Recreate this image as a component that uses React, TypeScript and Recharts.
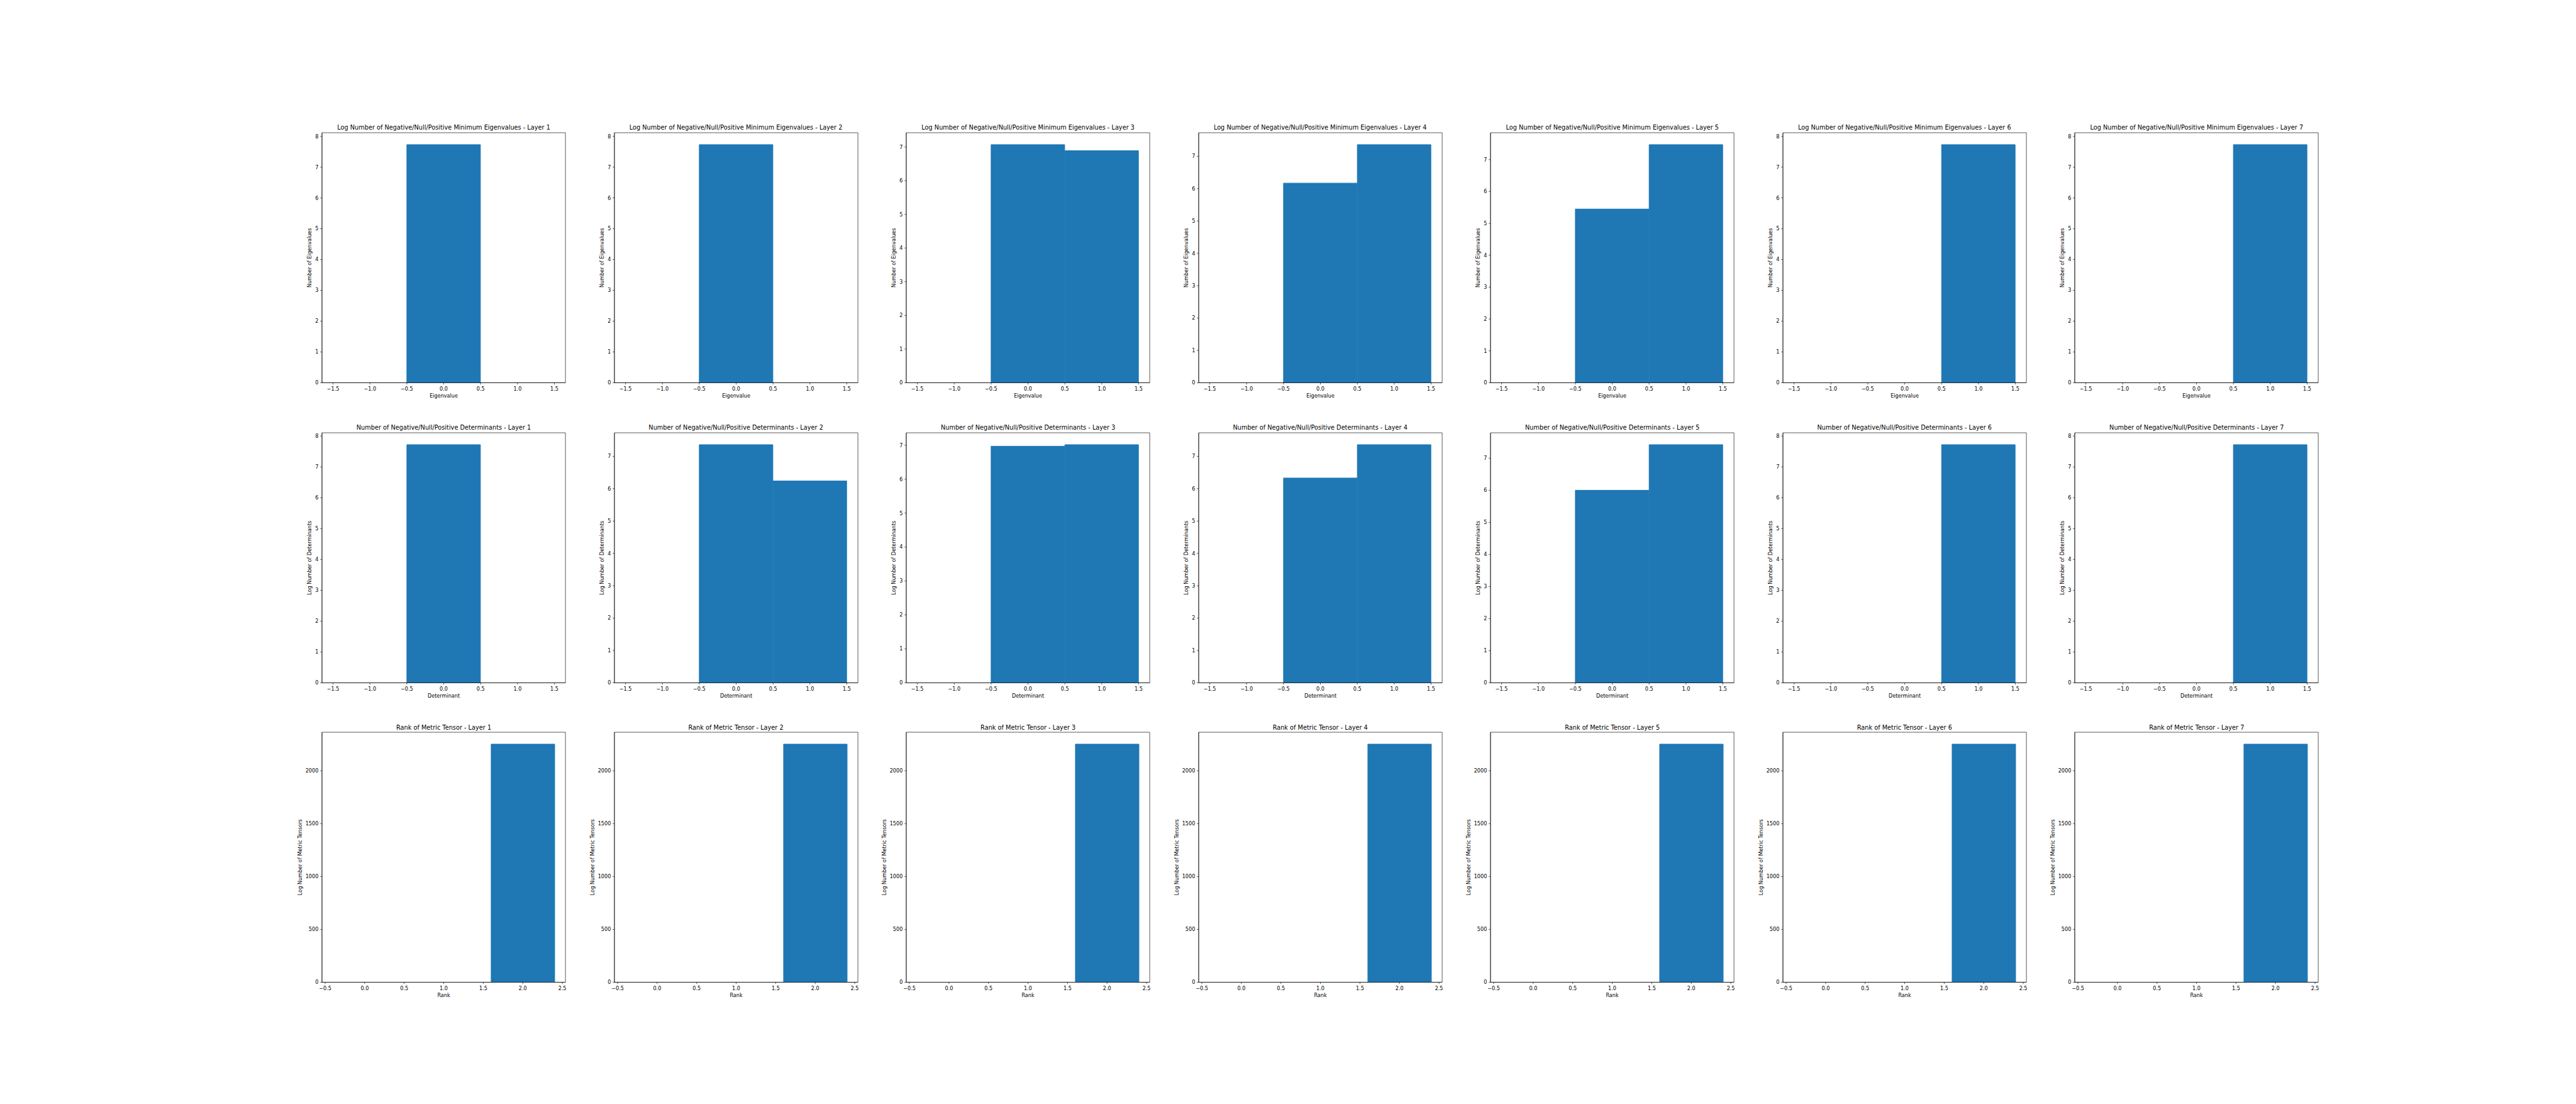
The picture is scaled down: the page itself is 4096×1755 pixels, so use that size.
import React from 'react';
import { BarChart, Bar, XAxis, YAxis, ReferenceArea } from 'recharts';

// ---------------- data ----------------
const layers = [1, 2, 3, 4, 5, 6, 7];
const signCategories = [-1, 0, 1];
const rankCategories = [0, 1, 2];

// log counts of negative / null / positive minimum eigenvalues, per layer
const minEigenLogCounts = [
  [0, 7.73, 0],
  [0, 7.73, 0],
  [0, 7.07, 6.89],
  [0, 6.17, 7.36],
  [0, 5.45, 7.47],
  [0, 0, 7.73],
  [0, 0, 7.73],
];

// log counts of negative / null / positive determinants, per layer
const determinantLogCounts = [
  [0, 7.72, 0],
  [0, 7.36, 6.24],
  [0, 6.97, 7.015],
  [0, 6.33, 7.36],
  [0, 6.0, 7.42],
  [0, 0, 7.72],
  [0, 0, 7.72],
];

// number of metric tensors by rank (0, 1, 2), per layer
const rankCounts = [
  [0, 0, 2252],
  [0, 0, 2252],
  [0, 0, 2252],
  [0, 0, 2252],
  [0, 0, 2252],
  [0, 0, 2252],
  [0, 0, 2252],
];

const signTicks = [-1.5, -1, -0.5, 0, 0.5, 1, 1.5];
const rankTicks = [-0.5, 0, 0.5, 1, 1.5, 2, 2.5];

const rowTitles = [
  'Log Number of Negative/Null/Positive Minimum Eigenvalues - Layer ',
  'Number of Negative/Null/Positive Determinants - Layer ',
  'Rank of Metric Tensor - Layer ',
];
const rowXLabels = ['Eigenvalue', 'Determinant', 'Rank'];
const rowYLabels = ['Number of Eigenvalues', 'Log Number of Determinants', 'Log Number of Metric Tensors'];

// ---------------- layout ----------------
const FIG_W = 4096;
const FIG_H = 1755;
const SX = FIG_W / 7000;
const SY = FIG_H / 3000;
const AX_W = (5425 / 8.2) * SX;
const AX_H = (2310 / 3.4) * SY;
const COL0 = 875 * SX;
const ROW0 = 360 * SY;
const COL_STEP = AX_W * 1.2;
const ROW_STEP = AX_H * 1.2;

const FONT = 'DejaVu Sans, sans-serif';
const FS = 8.125;
const TITLE_FS = 9.75;
const LW = 0.65;
const TICK = 2.84;
const BLUE = '#1f77b4';

const YW = 50;
const XH = 40;
const PAD_T = 2;
const PAD_R = 2;

const rows = [
  {
    categories: signCategories,
    values: minEigenLogCounts,
    xDomain: [-1.65, 1.65],
    xTicks: signTicks,
    gap: 0 as number | string,
    yStep: 1,
    yLabelDist: 19.5,
  },
  {
    categories: signCategories,
    values: determinantLogCounts,
    xDomain: [-1.65, 1.65],
    xTicks: signTicks,
    gap: 0 as number | string,
    yStep: 1,
    yLabelDist: 19.5,
  },
  {
    categories: rankCategories,
    values: rankCounts,
    xDomain: [-0.54, 2.54],
    xTicks: rankTicks,
    gap: '10%' as number | string,
    yStep: 500,
    yLabelDist: 35.1,
  },
];

const fmtX = (v: number) => v.toFixed(1).replace('-', '\u2212');
const fmtY = (v: number) => String(v).replace('-', '\u2212');

const axisStyle = { stroke: '#000', strokeWidth: LW };
const tickStyle = { fontSize: FS, fill: '#000', fontFamily: FONT };

function Panel({ r, c }: { r: number; c: number }) {
  const cfg = rows[r];
  const vals = cfg.values[c];
  const data = cfg.categories.map((x, i) => ({ x, v: vals[i] }));
  const yMax = Math.max(...vals) * 1.05;
  const yTicks: number[] = [];
  for (let t = 0; t <= yMax + 1e-9; t += cfg.yStep) yTicks.push(t);
  const axLeft = COL0 + c * COL_STEP;
  const axTop = ROW0 + r * ROW_STEP;
  const w = YW + AX_W + PAD_R;
  const h = PAD_T + AX_H + XH;
  return (
    <div style={{ position: 'absolute', left: axLeft - YW, top: axTop - PAD_T, width: w, height: h }}>
      <BarChart
        width={w}
        height={h}
        data={data}
        margin={{ top: PAD_T, right: PAD_R, left: 0, bottom: 0 }}
        barCategoryGap={cfg.gap}
      >
        <XAxis
          type="number"
          dataKey="x"
          domain={cfg.xDomain}
          ticks={cfg.xTicks}
          interval={0}
          allowDataOverflow
          height={XH}
          tickSize={TICK}
          tickMargin={4.3}
          tickFormatter={fmtX}
          tick={tickStyle}
          axisLine={axisStyle}
          tickLine={axisStyle}
          label={{
            value: rowXLabels[r],
            position: 'insideTop',
            offset: 18.2,
            fill: '#000',
            fontSize: FS,
            fontFamily: FONT,
          }}
        />
        <YAxis
          type="number"
          domain={[0, yMax]}
          ticks={yTicks}
          interval={0}
          allowDataOverflow
          width={YW}
          tickSize={TICK}
          tickMargin={TICK}
          tickFormatter={fmtY}
          tick={tickStyle}
          axisLine={axisStyle}
          tickLine={axisStyle}
          label={{
            value: rowYLabels[r],
            angle: -90,
            position: 'insideLeft',
            offset: YW - cfg.yLabelDist,
            fill: '#000',
            fontSize: FS,
            fontFamily: FONT,
            style: { textAnchor: 'middle' },
          }}
        />
        <Bar dataKey="v" fill={BLUE} stroke={BLUE} strokeWidth={1} isAnimationActive={false} />
        <ReferenceArea
          x1={cfg.xDomain[0]}
          x2={cfg.xDomain[1]}
          y1={0}
          y2={yMax}
          fill="none"
          fillOpacity={0}
          stroke="#000"
          strokeWidth={LW}
          strokeOpacity={1}
          ifOverflow="visible"
        />
      </BarChart>
    </div>
  );
}

export default function App() {
  return (
    <div
      style={{
        position: 'absolute',
        left: 0,
        top: 0,
        width: FIG_W,
        height: FIG_H,
        background: '#fff',
        overflow: 'hidden',
        fontFamily: FONT,
      }}
    >
      {rows.map((_, r) =>
        layers.map((_l, c) => <Panel key={`${r}-${c}`} r={r} c={c} />)
      )}
      <svg
        width={FIG_W}
        height={FIG_H}
        style={{ position: 'absolute', left: 0, top: 0, pointerEvents: 'none' }}
      >
        {rows.map((_, r) =>
          layers.map((layer, c) => (
            <text
              key={`t-${r}-${c}`}
              x={COL0 + c * COL_STEP + AX_W / 2}
              y={ROW0 + r * ROW_STEP - 4.87}
              textAnchor="middle"
              fontSize={TITLE_FS}
              fontFamily={FONT}
              fill="#000"
            >
              {rowTitles[r] + layer}
            </text>
          ))
        )}
      </svg>
    </div>
  );
}
